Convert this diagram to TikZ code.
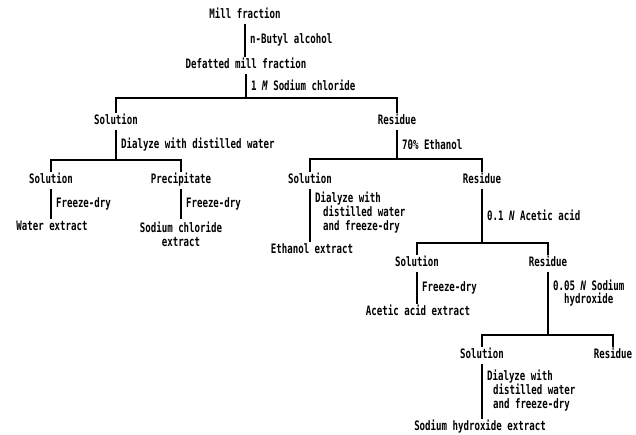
\documentclass[tikz,border=0pt]{standalone}
\usepackage{fontspec}
\setmainfont{DejaVu Sans Mono}[FakeStretch=0.70]
\begin{document}
\begin{tikzpicture}[x=1pt,y=-1pt,
  txt/.style={font=\bfseries\fontsize{13}{14}\selectfont},
  item/.style={txt,inner sep=1pt,outer sep=2pt,text height=9pt,text depth=2pt},
  lbl/.style={txt,inner sep=0pt,right=4pt,align=left},
  ln/.style={line width=2.2pt}]
\useasboundingbox (0,0) rectangle (636,434);
% nodes
\node[item] (mill) at (245,15) {Mill fraction};
\node[item] (defat) at (246,65) {Defatted mill fraction};
\coordinate (b1) at (246,98);
\node[item] (sol1) at (116,121) {Solution};
\node[item] (res1) at (397,121) {Residue};
\coordinate (b2) at (116,160);
\node[item] (sol2) at (51,180) {Solution};
\node[item] (prec) at (181,180) {Precipitate};
\node[item] (water) at (52,227) {Water extract};
\node[item,align=center,text height=,text depth=] (nacl) at (181,234) {Sodium chloride\\extract};
\coordinate (b3) at (397,159);
\node[item] (sol3) at (310,180) {Solution};
\node[item] (res2) at (482,180) {Residue};
\node[item] (ethext) at (312,250) {Ethanol extract};
\coordinate (b4) at (482,243);
\node[item] (sol4) at (417,263) {Solution};
\node[item] (res3) at (548,263) {Residue};
\node[item] (acext) at (418,312) {Acetic acid extract};
\coordinate (b5) at (548,335);
\node[item] (sol5) at (482,355) {Solution};
\node[item] (res4) at (613,355) {Residue};
\node[item] (naohext) at (480,427) {Sodium hydroxide extract};
% connectors
\draw[ln] (mill.south) -- (mill.south |- defat.north) node[midway,lbl] {n-Butyl alcohol};
\draw[ln] (defat.south) -- (b1) node[midway,lbl] {1 \textit{M} Sodium chloride};
\draw[ln] (sol1.north) |- (b1) -| (res1.north);
\draw[ln] (sol1.south) -- (b2) node[midway,lbl] {Dialyze with distilled water};
\draw[ln] (sol2.north) |- (b2) -| (prec.north);
\draw[ln] (sol2.south) -- (sol2.south |- water.north) node[midway,lbl] {Freeze-dry};
\draw[ln] (prec.south) -- (prec.south |- nacl.north) node[midway,lbl] {Freeze-dry};
\draw[ln] (res1.south) -- (b3) node[midway,lbl] {70\% Ethanol};
\draw[ln] (sol3.north) |- (b3) -| (res2.north);
\draw[ln] (sol3.south) -- (sol3.south |- ethext.north) node[pos=0.46,lbl] {Dialyze with\\\hspace*{8pt}distilled water\\\hspace*{8pt}and freeze-dry};
\draw[ln] (res2.south) -- (b4) node[midway,lbl] {0.1 \textit{N} Acetic acid};
\draw[ln] (sol4.north) |- (b4) -| (res3.north);
\draw[ln] (sol4.south) -- (sol4.south |- acext.north) node[midway,lbl] {Freeze-dry};
\draw[ln] (res3.south) -- (b5) node[pos=0.34,lbl,align=center,font=\bfseries\fontsize{13}{13}\selectfont] {0.05 \textit{N} Sodium\\hydroxide};
\draw[ln] (sol5.north) |- (b5) -| (res4.north);
\draw[ln] (sol5.south) -- (sol5.south |- naohext.north) node[midway,lbl] {Dialyze with\\\hspace*{6pt}distilled water\\\hspace*{6pt}and freeze-dry};
\end{tikzpicture}
\end{document}
